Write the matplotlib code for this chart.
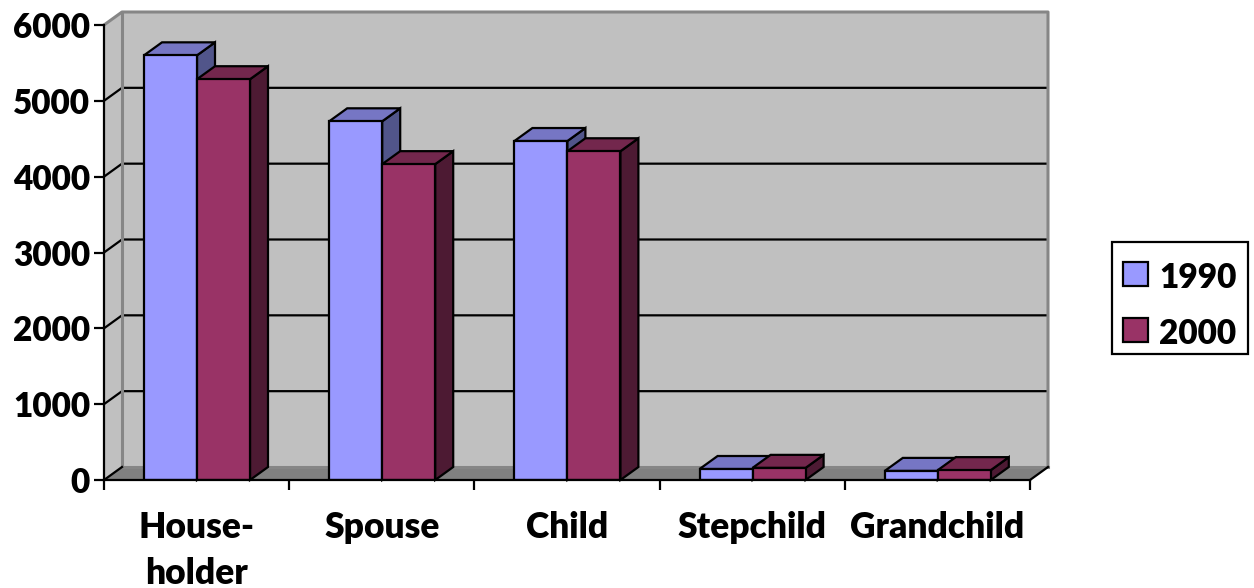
import matplotlib
matplotlib.use('Agg')
import matplotlib.pyplot as plt
from matplotlib.patches import Patch
import numpy as np

categories = ['House-\nholder', 'Spouse', 'Child', 'Stepchild', 'Grandchild']
values_1990 = [5600, 4730, 4470, 145, 120]
values_2000 = [5285, 4165, 4335, 160, 130]
series_names = ['1990', '2000']
y_ticks = [0, 1000, 2000, 3000, 4000, 5000, 6000]

plt.rcParams['font.family'] = ['Lato', 'DejaVu Sans']
plt.rcParams['font.weight'] = 'heavy'

W, H = 1254, 588
fig = plt.figure(figsize=(W / 100, H / 100), dpi=100)
ax = fig.add_axes([104 / W, (H - 480) / H, 926 / W, 455 / H])
ax.set_xlim(0, len(categories))
ax.set_ylim(0, 6000)
ax.patch.set_visible(False)

# 3D look: depth offset of the box and bars, in data units
dx = 18 / 926 * len(categories)
dy = 13 / 455 * 6000
lw = 1.6
x0, x1, y0, y1 = 0, len(categories), 0, 6000

# walls and floor
ax.fill([x0 + dx, x1 + dx, x1 + dx, x0 + dx], [y0 + dy, y0 + dy, y1 + dy, y1 + dy],
        color='#C0C0C0', lw=0, clip_on=False, zorder=0)
ax.fill([x0, x0 + dx, x0 + dx, x0], [y0, y0 + dy, y1 + dy, y1],
        color='#C0C0C0', lw=0, clip_on=False, zorder=0)
ax.fill([x0, x1, x1 + dx, x0 + dx], [y0, y0, y0 + dy, y0 + dy],
        color='#808080', lw=0, clip_on=False, zorder=0)

# grid lines on the back wall and left wall
for t in y_ticks[1:-1]:
    ax.plot([x0, x0 + dx, x1 + dx], [t, t + dy, t + dy], color='black', lw=lw,
            clip_on=False, zorder=1, solid_capstyle='butt')

# wall outlines
ax.plot([x0, x0 + dx, x1 + dx, x1 + dx], [y1, y1 + dy, y1 + dy, y0 + dy], color='#868686', lw=2.2,
        clip_on=False, zorder=1)
ax.plot([x0 + dx, x0 + dx, x1 + dx], [y1 + dy, y0 + dy, y0 + dy], color='#868686', lw=2.2,
        clip_on=False, zorder=1)
ax.plot([x0, x0 + dx], [y0, y0 + dy], color='black', lw=lw, clip_on=False, zorder=1)
ax.plot([x1, x1 + dx], [y0, y0 + dy], color='black', lw=lw, clip_on=False, zorder=1)


def bar3d(x, v, w, front, top, side, z):
    ax.bar(x, v, width=w, align='edge', color=front, edgecolor='black', linewidth=lw, zorder=z + 0.2)
    ax.fill([x, x + w, x + w + dx, x + dx], [v, v, v + dy, v + dy], facecolor=top,
            edgecolor='black', lw=lw, clip_on=False, zorder=z + 0.1, joinstyle='miter')
    ax.fill([x + w, x + w + dx, x + w + dx, x + w], [v, v + dy, dy, 0], facecolor=side,
            edgecolor='black', lw=lw, clip_on=False, zorder=z, joinstyle='miter')


bar_w = 53 / 185.2
gap = 40 / 185.2
for i in range(len(categories)):
    bar3d(i + gap, values_1990[i], bar_w, '#9999FF', '#7676C4', '#51558A', 2 + i)
    bar3d(i + gap + bar_w, values_2000[i], bar_w, '#993366', '#73274D', '#4D1A33', 2.5 + i)

for s in ['top', 'right']:
    ax.spines[s].set_visible(False)
for s in ['left', 'bottom']:
    ax.spines[s].set_linewidth(lw)
    ax.spines[s].set_zorder(10)

ax.set_yticks(y_ticks)
ax.set_yticklabels([str(t) for t in y_ticks], fontsize=24, fontweight='heavy')
ax.set_xticks(np.arange(len(categories) + 1))
ax.set_xticklabels([''] * (len(categories) + 1))
ax.tick_params(axis='both', length=7, width=lw, color='black')
ax.tick_params(axis='y', pad=3)

# category labels sit between the ticks
for i, c in enumerate(categories):
    ax.annotate(c, xy=(i + 0.5, 0), xycoords='data', xytext=(0, -22), textcoords='offset points',
                ha='center', va='top', fontsize=25.5, fontweight='heavy', linespacing=1.48)

handles = [Patch(facecolor='#9999FF', edgecolor='black', linewidth=lw),
           Patch(facecolor='#993366', edgecolor='black', linewidth=lw)]
leg = fig.legend(handles, series_names, loc='center', bbox_to_anchor=(1180 / W, (H - 298) / H),
                 fontsize=24, frameon=True, fancybox=False, edgecolor='black', framealpha=1,
                 handlelength=0.75, handleheight=0.75, handletextpad=0.33, labelspacing=0.72,
                 borderpad=0.35, borderaxespad=0)
leg.get_frame().set_linewidth(lw)
# nudge the legend rows down inside the box
for t in leg.get_texts():
    t.set_y(-8)
for p in leg.get_patches():
    p.set_y(p.get_y() - 4)

fig.savefig('out.png', dpi=100)
